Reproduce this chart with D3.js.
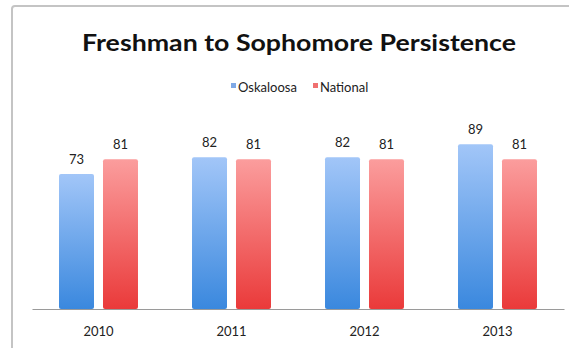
<!DOCTYPE html>
<html>
<head>
<meta charset="utf-8">
<script src="https://cdn.jsdelivr.net/npm/d3@7"></script>
<style>
  html, body { margin: 0; padding: 0; background: #fff; }
  svg { display: block; }
</style>
</head>
<body>
<svg id="chart" width="569" height="348"></svg>
<script>
// Data
const years = ["2010", "2011", "2012", "2013"];
const seriesNames = ["Oskaloosa", "National"];
const oskaloosa = [73, 82, 82, 89];
const national = [81, 81, 81, 81];
const seriesValues = [oskaloosa, national];

const svg = d3.select("#chart");
const W = 569, H = 348;
const font = "Lato, 'Open Sans', 'Liberation Sans', sans-serif";

// Frame around the chart area
svg.append("path")
  .attr("d", `M12,${H} L12,9 Q12,6 15,6 L${W},6`)
  .attr("fill", "none")
  .attr("stroke", "#c4c4c4")
  .attr("stroke-width", 2);

// Gradients for bars
const defs = svg.append("defs");
const grads = [
  { id: "gBlue", top: "#a2c6f8", bottom: "#3a88de" },
  { id: "gRed", top: "#fb9d9d", bottom: "#ea3a3a" }
];
grads.forEach(g => {
  const lg = defs.append("linearGradient").attr("id", g.id)
    .attr("x1", 0).attr("y1", 0).attr("x2", 0).attr("y2", 1);
  lg.append("stop").attr("offset", "0%").attr("stop-color", g.top);
  lg.append("stop").attr("offset", "100%").attr("stop-color", g.bottom);
});
const fills = ["url(#gBlue)", "url(#gRed)"];
const swatch = ["#7fa9e6", "#f07070"];

// Title
svg.append("text")
  .attr("x", 299).attr("y", 51)
  .attr("text-anchor", "middle")
  .attr("font-family", font)
  .attr("font-weight", "bold")
  .attr("font-size", 23)
  .attr("fill", "#111")
  .attr("textLength", 434)
  .attr("lengthAdjust", "spacingAndGlyphs")
  .text("Freshman to Sophomore Persistence");

// Legend
const legendX = [231, 313];
const legend = svg.append("g");
seriesNames.forEach((name, i) => {
  const g = legend.append("g").attr("transform", `translate(${legendX[i]},0)`);
  g.append("rect").attr("x", 0).attr("y", 83).attr("width", 5).attr("height", 5)
    .attr("fill", swatch[i]);
  g.append("text").attr("x", 7).attr("y", 92)
    .attr("font-family", font).attr("font-size", 13).attr("fill", "#222")
    .text(name);
});

// Scales
const x0 = d3.scaleBand().domain(years).range([32, 564]).padding(0);
const x1 = d3.scaleBand().domain(seriesNames).range([0, x0.bandwidth()])
  .paddingInner(0.2045).paddingOuter(0.614);
const y = d3.scaleLinear().domain([0, 100]).range([309, 124]);

// Bars
const groups = svg.append("g").selectAll("g")
  .data(years)
  .join("g")
  .attr("transform", d => `translate(${x0(d)},0)`);

const cells = groups.selectAll("g.cell")
  .data((d, yi) => seriesNames.map((s, si) => ({ s, si, v: seriesValues[si][yi] })))
  .join("g").attr("class", "cell");

cells.append("rect")
  .attr("x", d => x1(d.s))
  .attr("y", d => y(d.v))
  .attr("width", x1.bandwidth())
  .attr("height", d => y(0) - y(d.v))
  .attr("rx", 2)
  .attr("fill", d => fills[d.si]);

cells.append("text")
  .attr("x", d => x1(d.s) + x1.bandwidth() / 2)
  .attr("y", d => y(d.v) - 10)
  .attr("text-anchor", "middle")
  .attr("font-family", font)
  .attr("font-size", 13)
  .attr("fill", "#222")
  .text(d => d.v);

// Category axis
const axis = svg.append("g")
  .attr("transform", `translate(0,${y(0)})`)
  .call(d3.axisBottom(x0).tickSizeInner(0).tickSizeOuter(0).tickPadding(18));
axis.select(".domain").attr("stroke", "#9a9a9a").attr("stroke-width", 1.2);
axis.selectAll("text")
  .attr("font-family", font)
  .attr("font-size", 13)
  .attr("fill", "#222");
</script>
</body>
</html>
